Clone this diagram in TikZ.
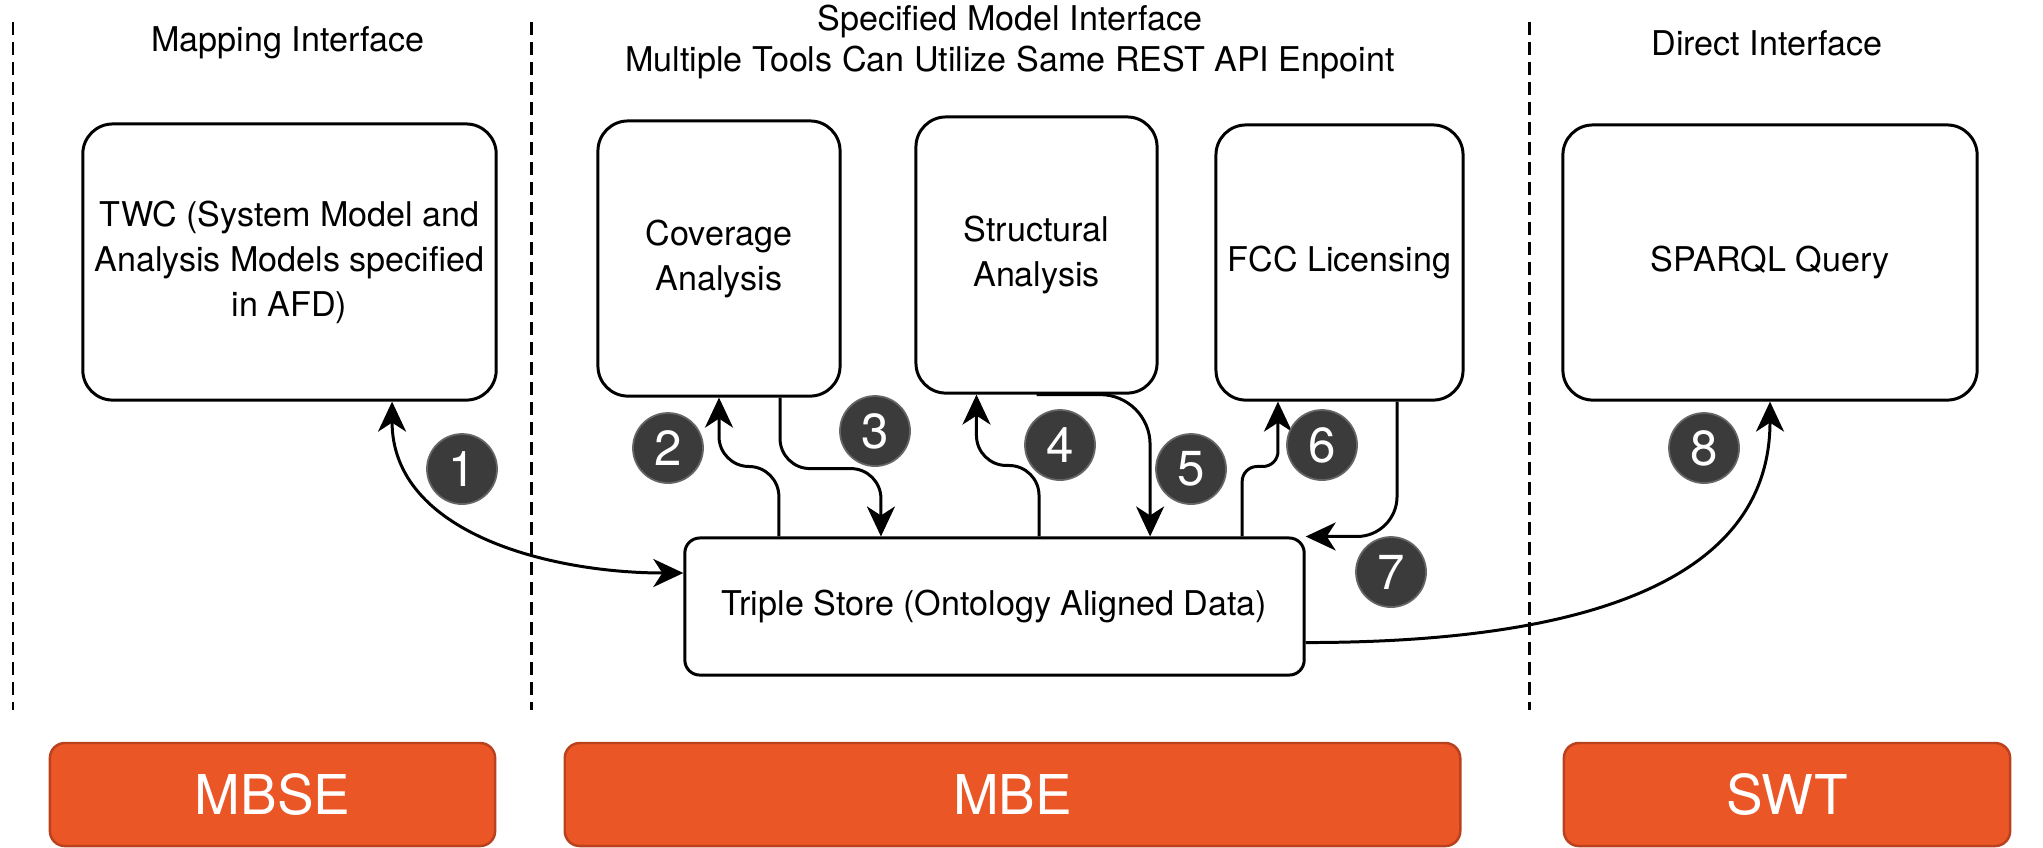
\documentclass[tikz,border=0pt]{standalone}
\usepackage{fontspec}
\setmainfont{TeX Gyre Heros}
\usetikzlibrary{arrows.meta}
\definecolor{laneorange}{RGB}{234,86,38}
\definecolor{laneedge}{RGB}{185,65,30}
\definecolor{badgegray}{RGB}{59,59,59}
\begin{document}
\begin{tikzpicture}[x=0.01cm,y=-0.01cm,
    tool/.style={draw,line width=0.85pt,rounded corners=0.3cm,align=center,
      font=\fontsize{9.7}{12.8}\selectfont},
    lane/.style={draw=laneedge,fill=laneorange,line width=0.7pt,rounded corners=0.15cm,
      text=white,minimum height=1.03cm,font=\fontsize{15.6}{18}\selectfont},
    badge/.style={circle,fill=badgegray,draw=black!60,line width=0.5pt,minimum size=0.7cm,
      inner sep=0pt,text=white,font=\fontsize{14}{14}\selectfont},
    tip/.tip={Stealth[length=0.3cm,width=0.28cm,inset=0.09cm]},
    flow/.style={line width=0.85pt,-tip},
    sep/.style={line width=0.85pt,dash pattern=on 0.13cm off 0.07cm},
    heading/.style={align=center,font=\fontsize{9.7}{11.6}\selectfont}]
    \useasboundingbox (0,0) rectangle (2043,847);
    % interface borders
    \draw[sep] (13,22) -- (13,710);
    \draw[sep] (531,22) -- (531,710);
    \draw[sep] (1529,22) -- (1529,710);
    \node[heading] (hmap) at (288,43) {Mapping Interface};
    \node[heading] (hspec) at (1010,42) {Specified Model Interface\\Multiple Tools Can Utilize Same REST API Enpoint};
    \node[heading] (hdir) at (1767,43) {Direct Interface};
    % tools
    \node[tool,minimum width=4.13cm,minimum height=2.76cm] (twc) at (289.5,262) {TWC (System Model and\\Analysis Models specified\\in AFD)};
    \node[tool,minimum width=2.42cm,minimum height=2.75cm] (cov) at (719,258.5) {Coverage\\Analysis};
    \node[tool,minimum width=2.41cm,minimum height=2.76cm] (struct) at (1036.5,255) {Structural\\Analysis};
    \node[tool,minimum width=2.41cm,minimum height=2.75cm] (fcc) at (1339.5,262.5) {FCC Licensing};
    \node[tool,minimum width=4.14cm,minimum height=2.75cm] (sparql) at (1770,262.5) {SPARQL Query};
    \node[tool,rounded corners=0.15cm,minimum width=6.19cm,minimum height=1.37cm] (ts) at (994.5,606.5) {Triple Store (Ontology Aligned Data)};
    % connectors
    \draw[flow,tip-tip] ([xshift=1.025cm]twc.south) to[out=-90,in=180] ([yshift=0.335cm]ts.west);
    \draw[flow,rounded corners=0.3cm] ([xshift=-2.155cm]ts.north) -- ++(0,-70) -| (cov.south);
    \draw[flow,rounded corners=0.3cm] ([xshift=0.61cm]cov.south) -- ++(0,71) -| ([xshift=-1.135cm]ts.north);
    \draw[flow,rounded corners=0.3cm] ([xshift=0.445cm]ts.north) -- ++(0,-71) -| ([xshift=-0.6cm]struct.south);
    \draw[flow,rounded corners=0.5cm] (struct.south) -| ([xshift=1.555cm]ts.north);
    \draw[flow,rounded corners=0.15cm] ([xshift=2.475cm]ts.north) -- ++(0,-70) -| ([xshift=-0.615cm]fcc.south);
    \draw[flow,rounded corners=0.4cm] ([xshift=0.575cm]fcc.south) |- (ts.north east);
    \draw[flow] ([yshift=-0.36cm]ts.east) .. controls +(300,0) and +(0,170) .. (sparql.south);
    % step numbers
    \node[badge] (b1) at (462,469) {1};
    \node[badge] (b2) at (668,448) {2};
    \node[badge] (b3) at (875,431) {3};
    \node[badge] (b4) at (1060,445) {4};
    \node[badge] (b5) at (1191,469) {5};
    \node[badge] (b6) at (1322,445) {6};
    \node[badge] (b7) at (1391,572) {7};
    \node[badge] (b8) at (1704,448) {8};
    % domains
    \node[lane,minimum width=4.45cm] (mbse) at (272.5,794.5) {MBSE};
    \node[lane,minimum width=8.95cm] (mbe) at (1012.5,794.5) {MBE};
    \node[lane,minimum width=4.46cm] (swt) at (1787,794.5) {SWT};
\end{tikzpicture}
\end{document}
